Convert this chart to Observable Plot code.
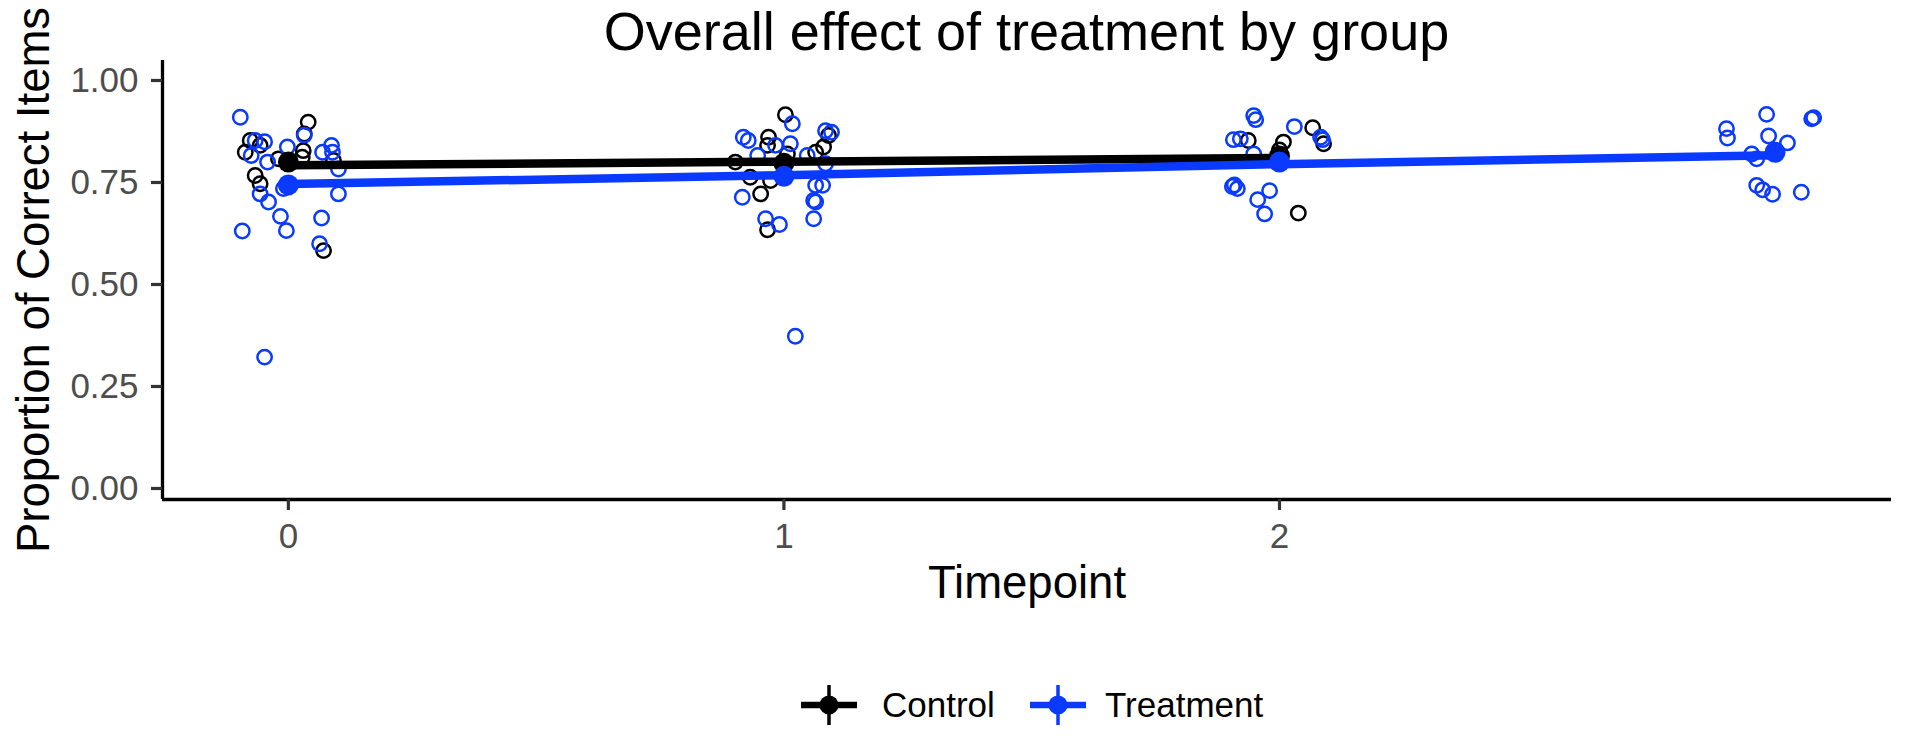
<!DOCTYPE html>
<html>
<head>
<meta charset="utf-8">
<script src="https://cdn.jsdelivr.net/npm/d3@7"></script>
<script src="https://cdn.jsdelivr.net/npm/@observablehq/plot@0.6"></script>
<style>
html, body { margin: 0; padding: 0; background: #fff; }
body { width: 1905px; height: 738px; overflow: hidden; position: relative; font-family: "Liberation Sans", Arial, sans-serif; }
#chart { position: absolute; left: 0; top: 0; }
#title { position: absolute; left: 162px; width: 1729px; top: 0px; text-align: center; font-size: 54px; line-height: normal; color: #000; white-space: nowrap; }
#legend { position: absolute; left: 0; top: 625px; }
</style>
</head>
<body>
<div id="chart"></div>
<div id="title">Overall effect of treatment by group</div>
<svg id="legend" width="1905" height="113"></svg>
<script>
// ---- data ----
const groups = ["Control", "Treatment"];
const groupColors = ["#000000", "#0a3aff"];
const xTicks = [0, 1, 2];
const yTicks = [0, 0.25, 0.5, 0.75, 1];
const xDomain = [-0.254, 3.235];
const yDomain = [-0.027, 1.049];

// jittered observations (timepoint + jitter), proportion correct
const controlX = [
  0.040, 0.032, -0.077, -0.087, -0.057, 0.030, 0.028, -0.020, -0.067, -0.057, 0.091, 0.071,
  1.003, 0.969, 0.967, 0.902, 0.932, 0.953, 1.007, 1.064, 1.080, 1.090, 0.973, 0.967,
  1.937, 2.067, 2.089, 2.008, 2.000, 2.038
];
const controlY = [
  0.898, 0.869, 0.853, 0.824, 0.841, 0.828, 0.812, 0.808, 0.767, 0.747, 0.804, 0.583,
  0.916, 0.861, 0.841, 0.800, 0.763, 0.722, 0.820, 0.824, 0.837, 0.865, 0.755, 0.634,
  0.853, 0.884, 0.845, 0.849, 0.830, 0.675
];
const treatX = [
  -0.097, -0.067, -0.048, -0.075, -0.002, 0.032, 0.069, 0.087, 0.089, 0.101, 0.101, -0.042, -0.057, -0.010, -0.040, -0.016, 0.067, -0.093, -0.004, 0.063, -0.048,
  1.017, 0.918, 0.928, 0.983, 1.013, 0.947, 1.047, 1.084, 1.096, 1.084, 1.064, 1.078, 1.060, 1.064, 0.916, 0.963, 0.991, 1.060, 1.023,
  1.948, 1.952, 1.907, 1.921, 2.030, 2.083, 2.087, 1.948, 1.909, 1.915, 1.905, 1.956, 1.980, 1.970,
  2.983, 2.902, 2.904, 2.987, 3.025, 3.074, 3.078, 2.953, 2.963, 2.963, 2.975, 2.995, 3.053
];
const treatY = [
  0.910, 0.853, 0.850, 0.816, 0.837, 0.866, 0.824, 0.841, 0.824, 0.783, 0.722, 0.800, 0.722, 0.735, 0.702, 0.667, 0.663, 0.631, 0.632, 0.600, 0.322,
  0.894, 0.861, 0.853, 0.841, 0.845, 0.816, 0.816, 0.877, 0.873, 0.796, 0.743, 0.743, 0.706, 0.702, 0.714, 0.661, 0.647, 0.661, 0.373,
  0.914, 0.904, 0.855, 0.857, 0.887, 0.861, 0.855, 0.820, 0.744, 0.735, 0.740, 0.708, 0.730, 0.673,
  0.917, 0.882, 0.859, 0.864, 0.847, 0.906, 0.909, 0.820, 0.808, 0.743, 0.732, 0.721, 0.726
];

// group means and fitted trend lines per timepoint
const controlT = [0, 1, 2];
const controlMean = [0.800, 0.797, 0.815];
const controlFit = [0.792, 0.801, 0.810];
const treatT = [0, 1, 2, 3];
const treatMean = [0.744, 0.765, 0.800, 0.824];
const treatFit = [0.746, 0.768, 0.795, 0.817];

// ---- tables for the library ----
const obs = [
  ...controlX.map((x, i) => ({group: groups[0], x, y: controlY[i]})),
  ...treatX.map((x, i) => ({group: groups[1], x, y: treatY[i]}))
];
const fits = [
  ...controlT.map((t, i) => ({group: groups[0], t, v: controlFit[i]})),
  ...treatT.map((t, i) => ({group: groups[1], t, v: treatFit[i]}))
];
const means = [
  ...controlT.map((t, i) => ({group: groups[0], t, v: controlMean[i]})),
  ...treatT.map((t, i) => ({group: groups[1], t, v: treatMean[i]}))
];

const font = '"Liberation Sans", Arial, sans-serif';
const chart = Plot.plot({
  width: 1905,
  height: 625,
  marginLeft: 162,
  marginRight: 14,
  marginTop: 60,
  marginBottom: 126,
  style: {fontFamily: font, background: "#fff", overflow: "visible"},
  x: {domain: xDomain},
  y: {domain: yDomain},
  color: {domain: groups, range: groupColors},
  marks: [
    Plot.dot(obs, {x: "x", y: "y", stroke: "group", fill: "none", r: 7.2, strokeWidth: 2.5}),
    Plot.line(fits, {x: "t", y: "v", z: "group", stroke: "group", strokeWidth: 8.5, strokeLinecap: "butt"}),
    Plot.dot(means, {x: "t", y: "v", fill: "group", r: 10.5}),
    Plot.ruleX([xDomain[0]], {stroke: "#000", strokeWidth: 3.3}),
    Plot.ruleY([yDomain[0]], {stroke: "#000", strokeWidth: 3.3}),
    Plot.axisY({ticks: yTicks, tickFormat: d3.format(".2f"), tickSize: 11, tickPadding: 13, fontSize: 35, fill: "#4d4d4d", stroke: "#333", strokeWidth: 3.2, label: null}),
    Plot.axisY({ticks: [], tickSize: 0, label: "Proportion of Correct Items", labelAnchor: "center", labelArrow: "none", labelOffset: 146, fontSize: 45.5, fill: "#000"}),
    Plot.axisX({ticks: xTicks, tickFormat: d3.format("d"), tickSize: 11, tickPadding: 13, fontSize: 35, fill: "#4d4d4d", stroke: "#333", strokeWidth: 3.2, label: null}),
    Plot.axisX({ticks: [], tickSize: 0, label: "Timepoint", labelAnchor: "center", labelArrow: "none", labelOffset: 98, fontSize: 45.5, fill: "#000"})
  ]
});
document.getElementById("chart").appendChild(chart);

// ---- legend below the plot ----
const leg = d3.select("#legend");
const keyCx = [829, 1058];
const textX = [882, 1105];
const keyCy = 80;
groups.forEach((g, i) => {
  const c = groupColors[i];
  leg.append("line").attr("x1", keyCx[i] - 28).attr("x2", keyCx[i] + 28).attr("y1", keyCy).attr("y2", keyCy)
    .attr("stroke", c).attr("stroke-width", 6.5);
  leg.append("line").attr("x1", keyCx[i]).attr("x2", keyCx[i]).attr("y1", keyCy - 20).attr("y2", keyCy + 20)
    .attr("stroke", c).attr("stroke-width", 3.5);
  leg.append("circle").attr("cx", keyCx[i]).attr("cy", keyCy).attr("r", 9.5).attr("fill", c);
  leg.append("text").attr("x", textX[i]).attr("y", keyCy + 12).attr("font-family", font).attr("font-size", 35)
    .attr("fill", "#000").text(g);
});
</script>
</body>
</html>
